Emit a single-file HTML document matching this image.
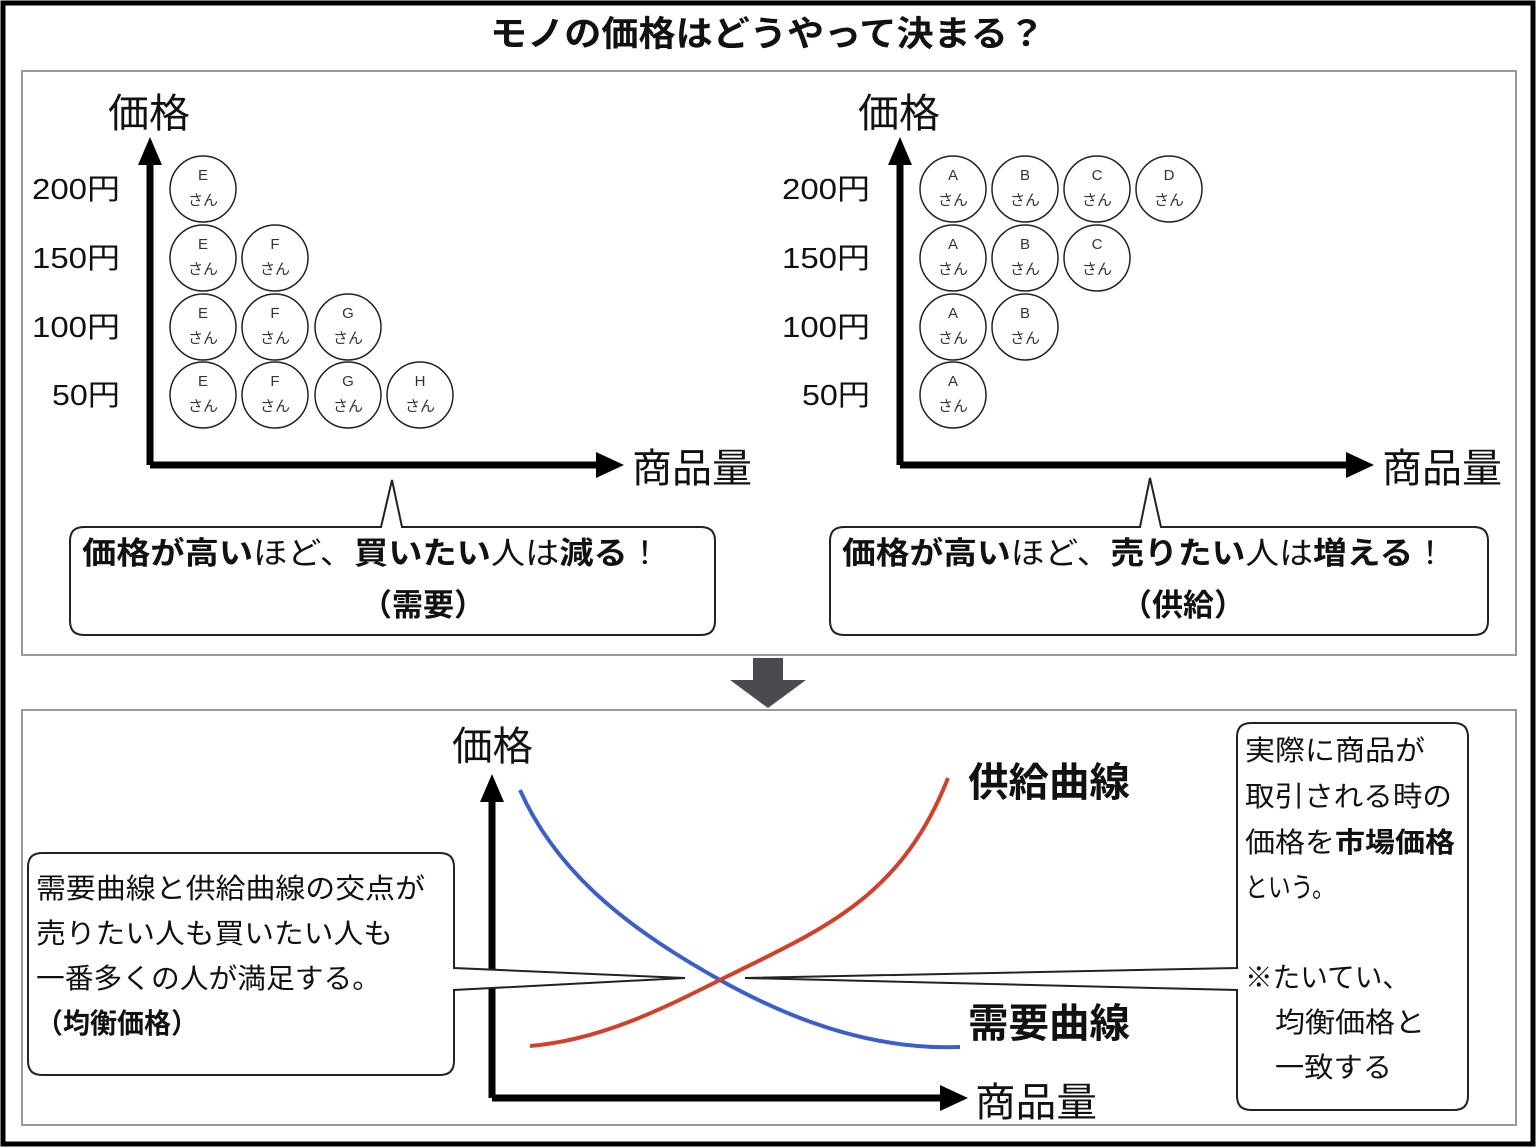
<!DOCTYPE html>
<html><head><meta charset="utf-8"><style>
html,body{margin:0;padding:0;background:#fff}
svg{display:block}
text{font-family:"Liberation Sans","Noto Sans CJK JP",sans-serif;fill:#111}
.b{font-weight:bold}
.c circle{fill:#fff;stroke:#222;stroke-width:1.5}
.c text{font-size:15px;text-anchor:middle;fill:#333}
</style></head><body>
<svg width="1536" height="1147" viewBox="0 0 1536 1147" xmlns="http://www.w3.org/2000/svg">
<rect x="3" y="3" width="1530" height="1141" fill="#fff" stroke="#000" stroke-width="5"/>
<text x="490" y="46" font-size="35" class="b" textLength="555" lengthAdjust="spacingAndGlyphs">モノの価格はどうやって決まる？</text>
<rect x="22" y="71" width="1494" height="584" fill="#fff" stroke="#999" stroke-width="2"/>
<polygon points="753,658 783,658 783,680 806,680 768,708 730,680 753,680" fill="#4a4b50"/>
<rect x="22" y="710" width="1494" height="415" fill="#fff" stroke="#999" stroke-width="2"/>

<!-- left chart -->
<g stroke="#000" stroke-width="7" fill="none"><path d="M150,465 V160 M150,465 H600"/></g>
<polygon points="150,137 138,165 162,165" fill="#000"/>
<polygon points="624,465 596,452 596,478" fill="#000"/>
<text x="108" y="127" font-size="40" textLength="82" lengthAdjust="spacingAndGlyphs">価格</text>
<text x="632" y="482" font-size="40" textLength="120" lengthAdjust="spacingAndGlyphs">商品量</text>
<g font-size="29"><text x="32" y="199" textLength="88" lengthAdjust="spacingAndGlyphs">200円</text><text x="32" y="268" textLength="88" lengthAdjust="spacingAndGlyphs">150円</text><text x="32" y="337" textLength="88" lengthAdjust="spacingAndGlyphs">100円</text><text x="52" y="405" textLength="68" lengthAdjust="spacingAndGlyphs">50円</text></g>
<g class="c">
<circle cx="203" cy="189" r="33"/><text x="203" y="180">E</text><text x="203" y="205">さん</text>
<circle cx="203" cy="258" r="33"/><text x="203" y="249">E</text><text x="203" y="274">さん</text>
<circle cx="275" cy="258" r="33"/><text x="275" y="249">F</text><text x="275" y="274">さん</text>
<circle cx="203" cy="327" r="33"/><text x="203" y="318">E</text><text x="203" y="343">さん</text>
<circle cx="275" cy="327" r="33"/><text x="275" y="318">F</text><text x="275" y="343">さん</text>
<circle cx="348" cy="327" r="33"/><text x="348" y="318">G</text><text x="348" y="343">さん</text>
<circle cx="203" cy="395" r="33"/><text x="203" y="386">E</text><text x="203" y="411">さん</text>
<circle cx="275" cy="395" r="33"/><text x="275" y="386">F</text><text x="275" y="411">さん</text>
<circle cx="348" cy="395" r="33"/><text x="348" y="386">G</text><text x="348" y="411">さん</text>
<circle cx="420" cy="395" r="33"/><text x="420" y="386">H</text><text x="420" y="411">さん</text>
</g>
<path d="M84,527 H381 L392,480 L402,527 H701 Q715,527 715,541 V621 Q715,635 701,635 H84 Q70,635 70,621 V541 Q70,527 84,527 Z" fill="#fff" stroke="#222" stroke-width="2"/>
<text x="82" y="564" font-size="31" textLength="580" lengthAdjust="spacingAndGlyphs"><tspan class="b">価格が高い</tspan>ほど、<tspan class="b">買いたい</tspan>人は<tspan class="b">減る</tspan>！</text>
<text x="423" y="616" font-size="31" class="b" text-anchor="middle">（需要）</text>

<!-- right chart -->
<g stroke="#000" stroke-width="7" fill="none"><path d="M900,465 V160 M900,465 H1350"/></g>
<polygon points="900,137 888,165 912,165" fill="#000"/>
<polygon points="1374,465 1346,452 1346,478" fill="#000"/>
<text x="858" y="127" font-size="40" textLength="82" lengthAdjust="spacingAndGlyphs">価格</text>
<text x="1382" y="482" font-size="40" textLength="120" lengthAdjust="spacingAndGlyphs">商品量</text>
<g font-size="29"><text x="782" y="199" textLength="88" lengthAdjust="spacingAndGlyphs">200円</text><text x="782" y="268" textLength="88" lengthAdjust="spacingAndGlyphs">150円</text><text x="782" y="337" textLength="88" lengthAdjust="spacingAndGlyphs">100円</text><text x="802" y="405" textLength="68" lengthAdjust="spacingAndGlyphs">50円</text></g>
<g class="c">
<circle cx="953" cy="189" r="33"/><text x="953" y="180">A</text><text x="953" y="205">さん</text>
<circle cx="1025" cy="189" r="33"/><text x="1025" y="180">B</text><text x="1025" y="205">さん</text>
<circle cx="1097" cy="189" r="33"/><text x="1097" y="180">C</text><text x="1097" y="205">さん</text>
<circle cx="1169" cy="189" r="33"/><text x="1169" y="180">D</text><text x="1169" y="205">さん</text>
<circle cx="953" cy="258" r="33"/><text x="953" y="249">A</text><text x="953" y="274">さん</text>
<circle cx="1025" cy="258" r="33"/><text x="1025" y="249">B</text><text x="1025" y="274">さん</text>
<circle cx="1097" cy="258" r="33"/><text x="1097" y="249">C</text><text x="1097" y="274">さん</text>
<circle cx="953" cy="327" r="33"/><text x="953" y="318">A</text><text x="953" y="343">さん</text>
<circle cx="1025" cy="327" r="33"/><text x="1025" y="318">B</text><text x="1025" y="343">さん</text>
<circle cx="953" cy="395" r="33"/><text x="953" y="386">A</text><text x="953" y="411">さん</text>
</g>
<path d="M844,527 H1140 L1150,478 L1161,527 H1474 Q1488,527 1488,541 V621 Q1488,635 1474,635 H844 Q830,635 830,621 V541 Q830,527 844,527 Z" fill="#fff" stroke="#222" stroke-width="2"/>
<text x="842" y="564" font-size="31" textLength="605" lengthAdjust="spacingAndGlyphs"><tspan class="b">価格が高い</tspan>ほど、<tspan class="b">売りたい</tspan>人は<tspan class="b">増える</tspan>！</text>
<text x="1183" y="616" font-size="31" class="b" text-anchor="middle">（供給）</text>

<!-- bottom -->
<g stroke="#000" stroke-width="7" fill="none"><path d="M492,1098 V800 M492,1098 H945"/></g>
<polygon points="492,774 480,802 504,802" fill="#000"/>
<polygon points="968,1098 940,1085 940,1111" fill="#000"/>
<text x="452" y="760" font-size="40" textLength="81" lengthAdjust="spacingAndGlyphs">価格</text>
<text x="975" y="1116" font-size="40" textLength="122" lengthAdjust="spacingAndGlyphs">商品量</text>
<text x="968" y="796" font-size="40" class="b" textLength="162" lengthAdjust="spacingAndGlyphs">供給曲線</text>
<text x="968" y="1037" font-size="40" class="b" textLength="162" lengthAdjust="spacingAndGlyphs">需要曲線</text>
<path d="M520,790 C560,880 640,935 720,980 C800,1025 880,1050 960,1047" fill="none" stroke="#3a5fc8" stroke-width="4"/>
<path d="M530,1046 C600,1040 660,1010 720,980 C820,930 900,900 948,778" fill="none" stroke="#d0402a" stroke-width="4"/>
<path d="M42,853 H440 Q454,853 454,867 V968 L685,978 L454,990 V1061 Q454,1075 440,1075 H42 Q28,1075 28,1061 V867 Q28,853 42,853 Z" fill="#fff" stroke="#222" stroke-width="2"/>
<g font-size="28"><text x="36" y="898" textLength="389" lengthAdjust="spacingAndGlyphs">需要曲線と供給曲線の交点が</text><text x="36" y="943" textLength="357" lengthAdjust="spacingAndGlyphs">売りたい人も買いたい人も</text><text x="36" y="988" textLength="345" lengthAdjust="spacingAndGlyphs">一番多くの人が満足する。</text><text x="36" y="1033" class="b" textLength="162" lengthAdjust="spacingAndGlyphs">（均衡価格）</text></g>
<path d="M1251,723 H1454 Q1468,723 1468,737 V1096 Q1468,1110 1454,1110 H1251 Q1237,1110 1237,1096 V990 L745,978 L1237,968 V737 Q1237,723 1251,723 Z" fill="#fff" stroke="#222" stroke-width="2"/>
<g font-size="28"><text x="1245" y="760" textLength="180" lengthAdjust="spacingAndGlyphs">実際に商品が</text><text x="1245" y="806" textLength="207" lengthAdjust="spacingAndGlyphs">取引される時の</text><text x="1245" y="852" textLength="210" lengthAdjust="spacingAndGlyphs">価格を<tspan class="b">市場価格</tspan></text><text x="1245" y="897" textLength="90" lengthAdjust="spacingAndGlyphs">という。</text><text x="1245" y="987" textLength="165" lengthAdjust="spacingAndGlyphs">※たいてい、</text><text x="1275" y="1032" textLength="150" lengthAdjust="spacingAndGlyphs">均衡価格と</text><text x="1275" y="1077" textLength="117" lengthAdjust="spacingAndGlyphs">一致する</text></g>
</svg>
</body></html>
